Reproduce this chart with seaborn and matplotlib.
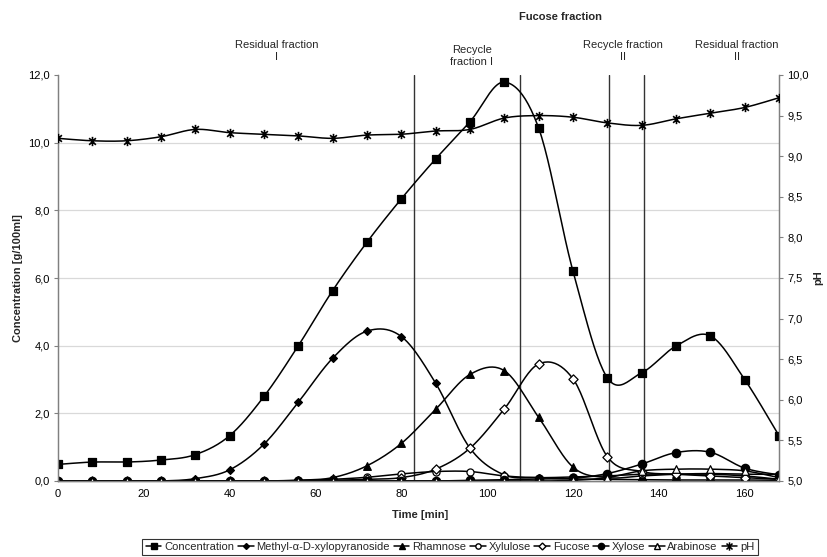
import numpy as np
import pandas as pd
import matplotlib
matplotlib.use("Agg")
import matplotlib.pyplot as plt
from matplotlib.lines import Line2D
from matplotlib.path import Path
import seaborn as sns

# ---------------- data ----------------
time = [0, 8, 16, 24, 32, 40, 48, 56, 64, 72, 80, 88, 96, 104, 112, 120, 128, 136, 144, 152, 160, 168]
concentration = [0.49, 0.56, 0.56, 0.62, 0.78, 1.34, 2.5, 4.0, 5.63, 7.06, 8.34, 9.52, 10.62, 11.79, 10.43, 6.2, 3.05, 3.2, 3.99, 4.29, 3.0, 1.34]
methyl_xylopyranoside = [0.0, 0.0, 0.0, 0.0, 0.07, 0.33, 1.09, 2.33, 3.63, 4.43, 4.27, 2.89, 0.97, 0.18, 0.1, 0.06, 0.05, 0.04, 0.03, 0.03, 0.03, 0.02]
rhamnose = [0.0, 0.0, 0.0, 0.0, 0.0, 0.0, 0.0, 0.02, 0.1, 0.45, 1.11, 2.12, 3.15, 3.26, 1.88, 0.41, 0.1, 0.15, 0.2, 0.22, 0.2, 0.2]
xylulose = [0.0, 0.0, 0.0, 0.0, 0.0, 0.0, 0.0, 0.02, 0.05, 0.11, 0.21, 0.28, 0.28, 0.15, 0.1, 0.12, 0.15, 0.2, 0.2, 0.2, 0.15, 0.05]
fucose = [0.0, 0.0, 0.0, 0.0, 0.0, 0.0, 0.0, 0.0, 0.02, 0.05, 0.1, 0.35, 0.97, 2.13, 3.46, 3.02, 0.72, 0.28, 0.2, 0.15, 0.1, 0.05]
xylose = [0.0, 0.0, 0.0, 0.0, 0.0, 0.0, 0.0, 0.0, 0.0, 0.0, 0.0, 0.0, 0.02, 0.04, 0.06, 0.08, 0.22, 0.5, 0.84, 0.85, 0.38, 0.18]
arabinose = [0.0, 0.0, 0.0, 0.0, 0.0, 0.0, 0.0, 0.0, 0.0, 0.0, 0.0, 0.0, 0.0, 0.0, 0.0, 0.02, 0.1, 0.3, 0.35, 0.35, 0.3, 0.1]
ph = [9.22, 9.19, 9.19, 9.24, 9.33, 9.29, 9.27, 9.25, 9.22, 9.26, 9.27, 9.31, 9.33, 9.47, 9.5, 9.48, 9.41, 9.38, 9.46, 9.53, 9.6, 9.72]

fraction_bounds = [83, 107.6, 128.5, 136.6]
conc_ticks = [0, 2, 4, 6, 8, 10, 12]
ph_ticks = [5.0, 5.5, 6.0, 6.5, 7.0, 7.5, 8.0, 8.5, 9.0, 9.5, 10.0]
time_ticks = [0, 20, 40, 60, 80, 100, 120, 140, 160]

series_names = ["Concentration", "Methyl-\u03b1-D-xylopyranoside", "Rhamnose", "Xylulose",
                "Fucose", "Xylose", "Arabinose"]
series_values = [concentration, methyl_xylopyranoside, rhamnose, xylulose, fucose, xylose, arabinose]

# ---------------- style ----------------
sns.set_theme(style="white")
FONT = ["Liberation Sans", "Arial", "DejaVu Sans"]
plt.rcParams["font.family"] = FONT
plt.rcParams["font.size"] = 8

fig = plt.figure(figsize=(8.28, 5.57), dpi=100)
W, H = 828, 557
ax = fig.add_axes([58 / W, 1 - 481 / H, (779 - 58) / W, (481 - 75) / H])
ax2 = ax.twinx()


def smooth(x, y, n=24):
    """Excel-style smoothed line (Catmull-Rom bezier) through the data points."""
    x = np.asarray(x, float)
    y = np.asarray(y, float)
    P = np.column_stack([x, y])
    P = np.vstack([P[0], P, P[-1]])
    out = []
    t = np.linspace(0, 1, n)[:, None]
    for i in range(1, len(P) - 2):
        p0, p1, p2, p3 = P[i - 1], P[i], P[i + 1], P[i + 2]
        c1 = p1 + (p2 - p0) / 6.0
        c2 = p2 - (p3 - p1) / 6.0
        seg = (1 - t) ** 3 * p1 + 3 * (1 - t) ** 2 * t * c1 + 3 * (1 - t) * t ** 2 * c2 + t ** 3 * p2
        out.append(seg if i == 1 else seg[1:])
    seg = np.vstack(out)
    return seg[:, 0], seg[:, 1]


styles = [
    dict(marker="s", s=30, fc="black"),
    dict(marker="D", s=16, fc="black"),
    dict(marker="^", s=30, fc="black"),
    dict(marker="o", s=26, fc="white"),
    dict(marker="D", s=22, fc="white"),
    dict(marker="o", s=36, fc="black"),
    dict(marker="^", s=30, fc="white"),
]

handles = []
for name, vals, st in zip(series_names, series_values, styles):
    sx, sy = smooth(time, vals)
    ax.plot(sx, sy, color="black", lw=1.1, zorder=3)
    df = pd.DataFrame({"time": time, "value": vals})
    sns.scatterplot(data=df, x="time", y="value", ax=ax, marker=st["marker"], s=st["s"],
                    color=st["fc"], edgecolor="black", linewidth=0.9, zorder=4, legend=False)
    handles.append(Line2D([], [], color="black", lw=1.1, marker=st["marker"],
                          markersize=np.sqrt(st["s"]) * 0.75, markerfacecolor=st["fc"],
                          markeredgecolor="black"))

# Excel-like star: x plus vertical bar
d = 0.72
star = Path([(0, -1), (0, 1), (-d, -d), (d, d), (-d, d), (d, -d)],
            [Path.MOVETO, Path.LINETO, Path.MOVETO, Path.LINETO, Path.MOVETO, Path.LINETO])

sx, sy = smooth(time, ph)
ax2.plot(sx, sy, color="black", lw=1.1, zorder=3)
sns.scatterplot(x=time, y=ph, ax=ax2, marker=star, s=45, color="black",
                edgecolor="black", linewidth=1.2, zorder=4, legend=False)
handles.append(Line2D([], [], color="black", lw=1.1, marker=star, markersize=6,
                      markeredgecolor="black", markeredgewidth=1.1))
labels = series_names + ["pH"]

for b in fraction_bounds:
    ax.axvline(b, color="#333333", lw=1.0, zorder=2)

# axes
ax.set_xlim(0, 168)
ax.set_ylim(0, 12)
ax2.set_ylim(5, 10)
ax.set_xticks(time_ticks)
ax.set_yticks(conc_ticks)
ax2.set_yticks(ph_ticks)
ax.set_xticklabels([str(t) for t in time_ticks], fontsize=8)
ax.set_yticklabels([f"{v:.1f}".replace(".", ",") for v in conc_ticks], fontsize=8)
ax2.set_yticklabels([f"{v:.1f}".replace(".", ",") for v in ph_ticks], fontsize=8)

for gy in conc_ticks[1:-1]:
    ax.axhline(gy, color="#d9d9d9", lw=0.9, zorder=0)

for a in (ax, ax2):
    a.spines["top"].set_visible(False)
    for s in ("left", "right", "bottom"):
        a.spines[s].set_color("#808080")
        a.spines[s].set_linewidth(0.9)
    a.tick_params(axis="both", direction="out", length=3, width=0.8, color="#808080",
                  labelcolor="black", pad=3)
ax.spines["bottom"].set_color("black")
ax.set_xlabel("")
ax.set_ylabel("")
ax2.set_ylabel("")

fig.text(18 / W, 1 - 278 / H, "Concentration [g/100ml]", rotation=90, ha="center", va="center",
         fontsize=8, fontweight="bold")
fig.text(818 / W, 1 - 278 / H, "pH", rotation=90, ha="center", va="center",
         fontsize=8, fontweight="bold")
fig.text(420 / W, 1 - 515 / H, "Time [min]", ha="center", va="center", fontsize=8, fontweight="bold")

fig.text(561 / W, 1 - 17 / H, "Fucose fraction", ha="center", va="center", fontsize=8, fontweight="bold")
fig.text(277 / W, 1 - 51 / H, "Residual fraction\nI", ha="center", va="center", ma="center",
         fontsize=8, linespacing=1.25)
fig.text(472 / W, 1 - 56 / H, "Recycle\nfraction I", ha="center", va="center", ma="center",
         fontsize=8, linespacing=1.25)
fig.text(623 / W, 1 - 51 / H, "Recycle fraction\nII", ha="center", va="center", ma="center",
         fontsize=8, linespacing=1.25)
fig.text(737 / W, 1 - 51 / H, "Residual fraction\nII", ha="center", va="center", ma="center",
         fontsize=8, linespacing=1.25)

leg = fig.legend(handles, labels, loc="center", bbox_to_anchor=(450 / W, 1 - 547 / H), ncol=8,
                 fontsize=8, frameon=True, fancybox=False, handlelength=1.4, handletextpad=0.25,
                 columnspacing=0.35, borderpad=0.3, borderaxespad=0)
leg.get_frame().set_edgecolor("black")
leg.get_frame().set_linewidth(0.8)

fig.savefig("out.png", dpi=100)
